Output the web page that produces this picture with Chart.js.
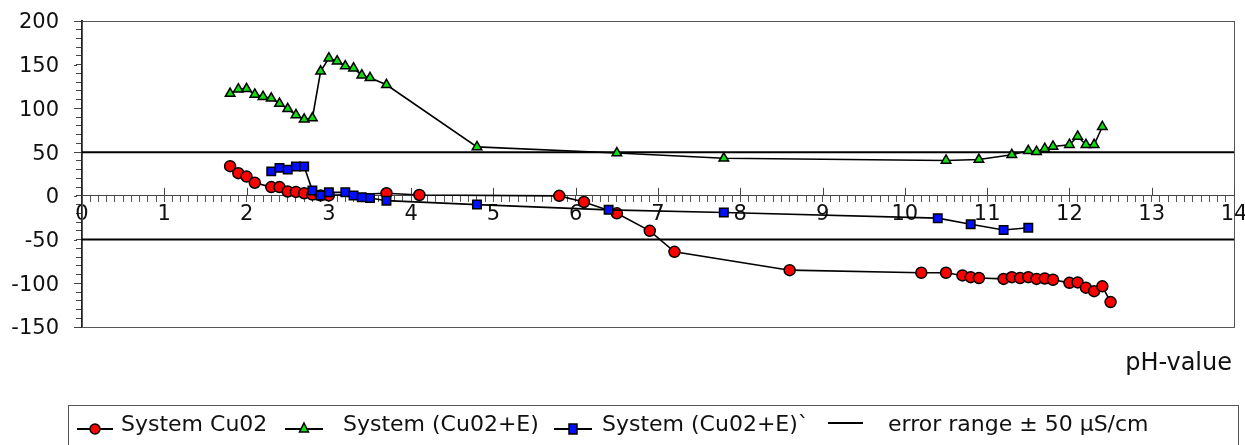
<!DOCTYPE html>
<html>
<head>
<meta charset="utf-8">
<script src="https://cdn.jsdelivr.net/npm/chart.js@4/dist/chart.umd.min.js"></script>
<style>
html,body{margin:0;padding:0;background:#fff;}
#wrap{width:1245px;height:445px;position:relative;}
</style>
</head>
<body>
<div id="wrap"><canvas id="c"></canvas></div>
<script>
// ---- data ----
const cu02X = [1.8,1.9,2.0,2.1,2.3,2.4,2.5,2.6,2.7,2.8,2.9,3.0,3.7,4.1,5.8,6.1,6.5,6.9,7.2,8.6,10.2,10.5,10.7,10.8,10.9,11.2,11.3,11.4,11.5,11.6,11.7,11.8,12.0,12.1,12.2,12.3,12.4,12.5];
const cu02Y = [34,26,22,15,10,10,5,4.5,3,1.5,0.5,0.5,3,1,0,-7,-20,-40,-64,-85,-88,-88,-91,-93,-94,-95,-93,-94,-93,-95,-94.5,-96,-99.5,-99,-105,-109,-103.5,-121.5];

const cu02EX = [1.8,1.9,2.0,2.1,2.2,2.3,2.4,2.5,2.6,2.7,2.8,2.9,3.0,3.1,3.2,3.3,3.4,3.5,3.7,4.8,6.5,7.8,10.5,10.9,11.3,11.5,11.6,11.7,11.8,12.0,12.1,12.2,12.3,12.4];
const cu02EY = [117,122,122.5,116,113.5,111.5,105.5,99.5,92.5,87.5,89,142.5,157.5,154,148.5,146,138,135,127,56,49,43,40.5,41.5,47,51.5,50.5,54,56.5,58.5,68,58.5,58.5,79];

const cu02E2X = [2.3,2.4,2.5,2.6,2.7,2.8,2.9,3.0,3.2,3.3,3.4,3.5,3.7,4.8,6.4,7.8,10.4,10.8,11.2,11.5];
const cu02E2Y = [28,32,30,33.5,33.5,6,0.5,4,4,0.5,-1.5,-2.5,-5.5,-10,-16,-19,-25.5,-32.5,-39,-36.5];

const errX = [0, 14];
const errUpperY = [50, 50];
const errLowerY = [-50, -50];

const seriesLabels = ['System Cu02', 'System (Cu02+E)', 'System (Cu02+E)`', 'error range ± 50 µS/cm'];
const xTickLabels = ['0','1','2','3','4','5','6','7','8','9','10','11','12','13','14'];
const yTickValues = [-150,-100,-50,0,50,100,150,200];
const yTickLabels = ['-150','-100','-50','0','50','100','150','200'];
const xAxisTitle = 'pH-value';

// ---- helpers ----
const FONT = "'DejaVu Sans', sans-serif";
const pts = (xs, ys) => xs.map((x, i) => ({x: x, y: ys[i]}));

const extras = {
  id: 'extras',
  beforeDatasetsDraw(chart) {
    const {ctx, chartArea: a, scales: {x, y}} = chart;
    ctx.save();
    // frame
    ctx.strokeStyle = '#555';
    ctx.lineWidth = 1;
    ctx.strokeRect(Math.round(a.left) + 0.5, Math.round(a.top) + 0.5, Math.round(a.right - a.left), Math.round(a.bottom - a.top));
    // major tick extensions on x axis (crossing the axis line)
    const y0 = y.getPixelForValue(0);
    ctx.strokeStyle = '#444';
    ctx.beginPath();
    for (let i = 0; i < xTickLabels.length; i++) {
      const px = Math.round(x.getPixelForValue(i)) + 0.5;
      ctx.moveTo(px, y0 - 8);
      ctx.lineTo(px, y0);
    }
    // major tick extensions on y axis
    for (const v of yTickValues) {
      const py = Math.round(y.getPixelForValue(v)) + 0.5;
      ctx.moveTo(a.left - 8, py);
      ctx.lineTo(a.left - 5, py);
    }
    ctx.stroke();
    ctx.restore();
  },
  afterDraw(chart) {
    const {ctx} = chart;
    ctx.save();
    // x axis title
    ctx.fillStyle = '#111';
    ctx.font = '24px ' + FONT;
    ctx.textAlign = 'right';
    ctx.textBaseline = 'alphabetic';
    ctx.fillText(xAxisTitle, 1232, 370);

    // legend frame
    ctx.strokeStyle = '#555';
    ctx.lineWidth = 1;
    ctx.strokeRect(68.5, 405.5, 1170, 60);

    const items = [
      {ds: 0, x1: 77, x2: 113, ly: 429, tx: 121},
      {ds: 1, x1: 285, x2: 323, ly: 429, tx: 343},
      {ds: 2, x1: 554, x2: 592, ly: 429, tx: 602},
      {ds: 3, x1: 828, x2: 863, ly: 423, tx: 888}
    ];
    ctx.font = '22px ' + FONT;
    ctx.textAlign = 'left';
    items.forEach((it, i) => {
      const d = chart.data.datasets[it.ds];
      ctx.strokeStyle = '#000';
      ctx.lineWidth = 2;
      ctx.beginPath();
      ctx.moveTo(it.x1, it.ly);
      ctx.lineTo(it.x2, it.ly);
      ctx.stroke();
      const cx = (it.x1 + it.x2) / 2;
      if (d.pointRadius > 0) {
        ctx.fillStyle = d.pointBackgroundColor;
        ctx.strokeStyle = '#000';
        ctx.lineWidth = 1.5;
        ctx.beginPath();
        if (d.pointStyle === 'circle') {
          ctx.arc(cx, it.ly, 5, 0, Math.PI * 2);
        } else if (d.pointStyle === 'triangle') {
          ctx.moveTo(cx, it.ly - 6);
          ctx.lineTo(cx + 4.5, it.ly + 3);
          ctx.lineTo(cx - 4.5, it.ly + 3);
          ctx.closePath();
        } else {
          ctx.rect(cx - 4, it.ly - 5, 8, 10);
        }
        ctx.fill();
        ctx.stroke();
      }
      ctx.fillStyle = '#111';
      ctx.fillText(seriesLabels[i], it.tx, 431);
    });
    ctx.restore();
  }
};

Chart.defaults.font.family = FONT;
Chart.defaults.color = '#111';

const lineBase = {borderColor: '#000', borderWidth: 1.6, pointBorderColor: '#000', pointBorderWidth: 1.5, tension: 0, fill: false};

new Chart(document.getElementById('c'), {
  type: 'line',
  data: {
    datasets: [
      Object.assign({label: seriesLabels[0], data: pts(cu02X, cu02Y), pointStyle: 'circle', pointRadius: 5.5, pointBackgroundColor: '#ff0000', order: 1}, lineBase),
      Object.assign({label: seriesLabels[1], data: pts(cu02EX, cu02EY), pointStyle: 'triangle', pointRadius: 5.5, pointBackgroundColor: '#10dd10', order: 2}, lineBase),
      Object.assign({label: seriesLabels[2], data: pts(cu02E2X, cu02E2Y), pointStyle: 'rect', pointRadius: 6, pointBackgroundColor: '#0010ff', order: 0}, lineBase),
      {label: seriesLabels[3], data: pts(errX, errUpperY), borderColor: '#000', borderWidth: 2, pointRadius: 0, order: 3},
      {label: seriesLabels[3] + ' (lower)', data: pts(errX, errLowerY), borderColor: '#000', borderWidth: 2, pointRadius: 0, order: 3}
    ]
  },
  options: {
    responsive: true,
    maintainAspectRatio: false,
    animation: false,
    layout: {padding: {left: 0, right: 11, top: 21, bottom: 118}},
    plugins: {legend: {display: false}, tooltip: {enabled: false}},
    scales: {
      x: {
        type: 'linear',
        position: {y: 0},
        min: 0,
        max: 14,
        afterFit(s) { s.paddingLeft = 0; s.paddingRight = 0; },
        grid: {drawOnChartArea: false, drawTicks: true, tickLength: 6, color: '#555', lineWidth: 1},
        border: {display: true, color: '#444', width: 1},
        ticks: {
          stepSize: 0.1,
          autoSkip: false,
          maxRotation: 0,
          minRotation: 0,
          padding: 0,
          font: {size: 21, family: FONT},
          color: '#111',
          callback(v) {
            const r = Math.round(v);
            return Math.abs(v - r) < 1e-6 ? xTickLabels[r] : '';
          }
        }
      },
      y: {
        type: 'linear',
        position: 'left',
        min: -150,
        max: 200,
        afterFit(s) { s.width = 82; s.paddingTop = 0; s.paddingBottom = 0; },
        grid: {drawOnChartArea: false, drawTicks: true, tickLength: 6, color: '#444', lineWidth: 1},
        border: {display: true, color: '#222', width: 2},
        ticks: {
          stepSize: 10,
          autoSkip: false,
          padding: 17,
          labelOffset: 2,
          font: {size: 21, family: FONT},
          color: '#111',
          callback(v) {
            const k = yTickValues.indexOf(Math.round(v));
            return (Math.abs(v - Math.round(v)) < 1e-6 && k >= 0) ? yTickLabels[k] : '';
          }
        }
      }
    }
  },
  plugins: [extras]
});
</script>
</body>
</html>
